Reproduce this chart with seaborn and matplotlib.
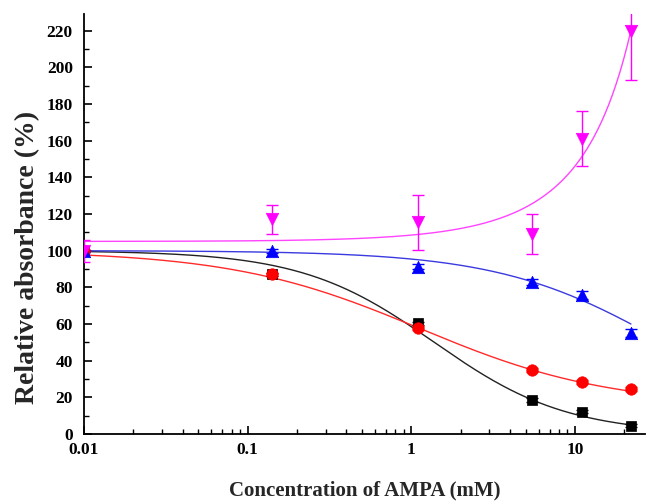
import numpy as np
import pandas as pd
import matplotlib
matplotlib.use("Agg")
import matplotlib.pyplot as plt
import seaborn as sns
from matplotlib.ticker import MultipleLocator, LogLocator, NullFormatter, FixedLocator, FixedFormatter

# ---- data ----
conc = [0.01, 0.14, 1.1, 5.5, 11, 22]
black_vals = [100, 87, 60.3, 18.5, 12.2, 4.4]
black_err = [0.5, 1.0, 1.0, 1.0, 0.8, 0.8]
red_vals = [100, 87, 57.9, 34.9, 28.5, 24.4]
red_err = [0.5, 1.0, 1.2, 1.0, 1.0, 1.0]
blue_vals = [100, 99.9, 91.2, 83.0, 75.7, 55.0]
blue_err = [0.5, 1.0, 1.5, 1.5, 2.0, 2.0]
magenta_vals = [100, 117, 115.5, 109, 161, 220]
magenta_err = [6, 8, 15, 11, 15, 27]

series_names = ["black", "red", "blue", "magenta"]
marker_colors = ["#000000", "#ff0000", "#0000ff", "#ff00ff"]
curve_colors = ["#222222", "#ff2a2a", "#3a3ae0", "#ff44ff"]
marker_shapes = ["s", "o", "^", "v"]

# fitted curve parameters (logistic: A1, A2, x0, p ; exponential: y0, A, t)
black_fit = [100, 0, 1.38, 1.07]
red_fit = [100, 15, 1.13, 0.75]
blue_fit = [100, 0, 35.4, 0.85]
magenta_fit = [13, 92, 27.1]

x_ticks = [0.01, 0.1, 1, 10]
x_ticklabels = ["0.01", "0.1", "1", "10"]
xlabel = "Concentration of AMPA (mM)"
ylabel = "Relative absorbance (%)"


def logistic(x, a1, a2, x0, p):
    return a2 + (a1 - a2) / (1 + (x / x0) ** p)


def expgrow(x, y0, a, t):
    return y0 + a * np.exp(x / t)


sns.set_style("ticks")
plt.rcParams["font.family"] = ["Liberation Serif", "DejaVu Serif"]
plt.rcParams["font.weight"] = "bold"

fig = plt.figure(figsize=(6.46, 5.04), dpi=100)
ax = fig.add_axes([0.130, 0.139, 0.868, 0.833])

xs = np.geomspace(conc[0], conc[-1], 300)
curves = pd.DataFrame({
    "x": np.concatenate([xs] * 4),
    "y": np.concatenate([
        logistic(xs, *black_fit),
        logistic(xs, *red_fit),
        logistic(xs, *blue_fit),
        expgrow(xs, *magenta_fit),
    ]),
    "series": np.repeat(series_names, len(xs)),
})
sns.lineplot(data=curves, x="x", y="y", hue="series", hue_order=series_names,
             palette=dict(zip(series_names, curve_colors)), lw=1.0,
             legend=False, ax=ax, zorder=2, estimator=None, sort=False)

vals = [black_vals, red_vals, blue_vals, magenta_vals]
errs = [black_err, red_err, blue_err, magenta_err]
sizes = [55, 68, 80, 80]
for name, v, e, mc, mk, s in zip(series_names, vals, errs, marker_colors, marker_shapes, sizes):
    ax.errorbar(conc, v, yerr=e, fmt="none", ecolor=mc, elinewidth=1.0,
                capsize=4, capthick=1.0, zorder=3)
    df = pd.DataFrame({"x": conc, "y": v})
    sns.scatterplot(data=df, x="x", y="y", marker=mk, color=mc, s=s,
                    edgecolor=mc, linewidth=0.5, ax=ax, zorder=4, legend=False)

ax.set_xscale("log")
ax.set_xlim(0.01, 26.7)
ax.set_ylim(0, 229)

ax.xaxis.set_major_locator(FixedLocator(x_ticks))
ax.xaxis.set_major_formatter(FixedFormatter(x_ticklabels))
ax.xaxis.set_minor_locator(LogLocator(base=10, subs=np.arange(2, 10), numticks=20))
ax.xaxis.set_minor_formatter(NullFormatter())
ax.yaxis.set_major_locator(MultipleLocator(20))
ax.yaxis.set_minor_locator(MultipleLocator(10))

ax.tick_params(axis="both", which="major", direction="in", length=6, width=1.2,
               labelsize=12.5, color="black", labelcolor="black")
ax.tick_params(axis="x", which="major", pad=6)
ax.tick_params(axis="y", which="major", pad=8)
ax.tick_params(axis="both", which="minor", direction="in", length=3.5, width=1.0, color="black")
for lab in ax.get_xticklabels() + ax.get_yticklabels():
    lab.set_fontweight("bold")

sns.despine(ax=ax)
for sp in ["left", "bottom"]:
    ax.spines[sp].set_linewidth(1.3)
    ax.spines[sp].set_color("black")

ax.set_xlabel(xlabel, fontsize=15, fontweight="bold", labelpad=16)
ax.set_ylabel(ylabel, fontsize=20, fontweight="bold")
ax.yaxis.set_label_coords(-0.078, 0.42)

fig.savefig("out.png", dpi=100)
